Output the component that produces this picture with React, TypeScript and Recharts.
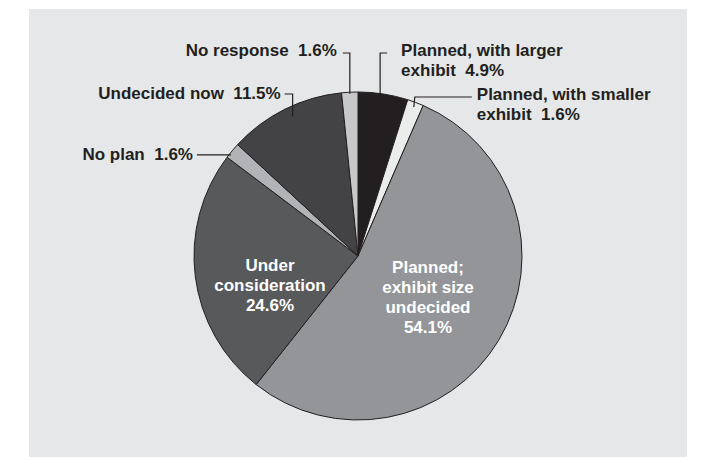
import { PieChart, Pie, Cell } from "recharts"

const categories = [
  "Planned, with larger exhibit",
  "Planned, with smaller exhibit",
  "Planned; exhibit size undecided",
  "Under consideration",
  "No plan",
  "Undecided now",
  "No response",
]
const shares = [4.9, 1.6, 54.1, 24.6, 1.6, 11.5, 1.6]
const labelText = [
  ["Planned, with larger", "exhibit"],
  ["Planned, with smaller", "exhibit"],
  ["Planned;", "exhibit size", "undecided"],
  ["Under", "consideration"],
  ["No plan"],
  ["Undecided now"],
  ["No response"],
]

const sliceColors = ["#231f20", "#ebecec", "#939598", "#58595b", "#b1b3b6", "#434244", "#c7c8ca"]

// label placement, relative to the pie centre
const labelLayout: any[] = [
  { kind: "up", r: 0.99, shift: 1, lineY: -203, tick: 7, gap: 14, base: 3 },
  { kind: "bend", r: 0.97, shift: 0, lineY: -159, bend: 1, len: 57, gap: 5, base: 3 },
  { kind: "inside", dx: 70, dy: 17 },
  { kind: "inside", dx: -88, dy: 15 },
  { kind: "left", r: 0.99, shift: 1.4, len: 34, gap: 4, base: 5 },
  { kind: "up", r: 0.94, shift: -1.4, lineY: -162, tick: -8, gap: 4, base: 5 },
  { kind: "up", r: 0.99, shift: 0, lineY: -203, tick: -7, gap: 6, base: 3 },
]

const data = categories.map((name, i) => ({ name, value: shares[i] }))

const RAD = Math.PI / 180
const INK = "#231f20"
const FONT = "'Liberation Sans', Arial, sans-serif"
const LINE_H = 20

function linesFor(i: number) {
  const pct = `${shares[i].toFixed(1)}%`
  const parts = labelText[i].slice()
  const layout = labelLayout[i]
  if (layout.kind === "inside") return [...parts, pct]
  parts[parts.length - 1] = `${parts[parts.length - 1]}  ${pct}`
  return parts
}

function renderLabel(props: any) {
  const { cx, cy, midAngle, outerRadius, index } = props
  const layout = labelLayout[index]
  const lines = linesFor(index)
  const textProps = {
    fontFamily: FONT,
    fontSize: 17,
    fontWeight: "bold" as const,
    xmlSpace: "preserve",
    style: { whiteSpace: "pre" as const },
  }

  if (layout.kind === "inside") {
    return (
      <text key={`l-${index}`} x={cx + layout.dx} y={cy + layout.dy} fill="#ffffff" textAnchor="middle" {...textProps}>
        {lines.map((t: string, k: number) => (
          <tspan key={k} x={cx + layout.dx} dy={k === 0 ? 0 : LINE_H}>
            {t}
          </tspan>
        ))}
      </text>
    )
  }

  const a = (midAngle + layout.shift) * RAD
  const ax = cx + outerRadius * layout.r * Math.cos(-a)
  const ay = cy + outerRadius * layout.r * Math.sin(-a)

  let d = ""
  let tx = 0
  let ty = 0
  let anchor: "start" | "end" = "start"

  if (layout.kind === "up") {
    const ly = cy + layout.lineY
    d = `M${ax},${ay} L${ax},${ly} L${ax + layout.tick},${ly}`
    anchor = layout.tick > 0 ? "start" : "end"
    tx = ax + layout.tick + (layout.tick > 0 ? layout.gap : -layout.gap)
    ty = ly + layout.base
  } else if (layout.kind === "bend") {
    const ly = cy + layout.lineY
    const bx = ax + layout.bend
    d = `M${ax},${ay} L${bx},${ly} L${bx + layout.len},${ly}`
    tx = bx + layout.len + layout.gap
    ty = ly + layout.base
  } else {
    d = `M${ax},${ay} L${ax - layout.len},${ay}`
    anchor = "end"
    tx = ax - layout.len - layout.gap
    ty = ay + layout.base
  }

  return (
    <g key={`l-${index}`}>
      <path d={d} stroke={INK} strokeWidth={1.2} fill="none" />
      <text x={tx} y={ty} fill={INK} textAnchor={anchor} {...textProps}>
        {lines.map((t: string, k: number) => (
          <tspan key={k} x={tx} dy={k === 0 ? 0 : LINE_H}>
            {t}
          </tspan>
        ))}
      </text>
    </g>
  )
}

export default function App() {
  return (
    <div style={{ paddingTop: 1, paddingLeft: 21 }}>
      <div style={{ width: 658, height: 448, background: "#e6e7e8" }}>
        <PieChart width={658} height={448} margin={{ top: 0, right: 0, bottom: 0, left: 0 }}>
          <Pie
            data={data}
            dataKey="value"
            nameKey="name"
            cx={329}
            cy={247}
            outerRadius={164}
            startAngle={90}
            endAngle={-270}
            stroke={INK}
            strokeWidth={1}
            label={renderLabel}
            labelLine={false}
            isAnimationActive={false}
          >
            {data.map((d, i) => (
              <Cell key={d.name} fill={sliceColors[i]} />
            ))}
          </Pie>
        </PieChart>
      </div>
    </div>
  )
}
